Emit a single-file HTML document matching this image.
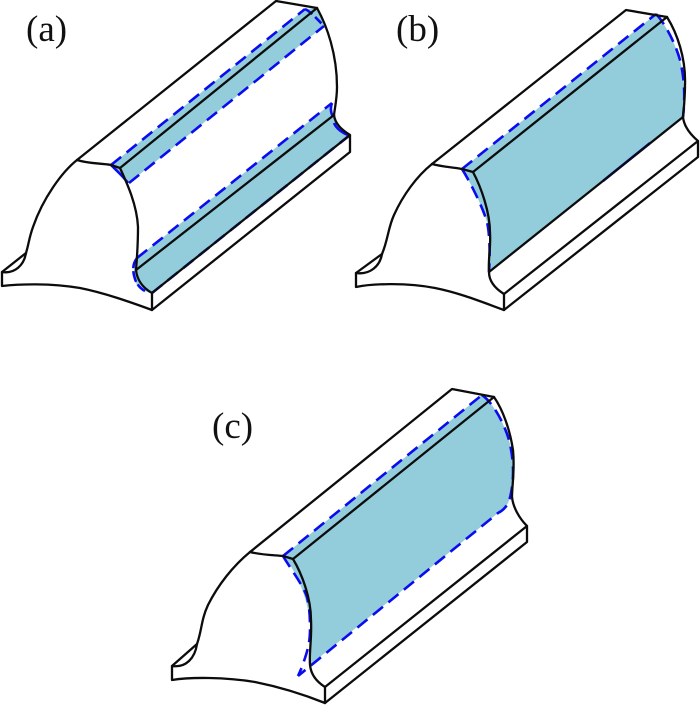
<!DOCTYPE html>
<html><head><meta charset="utf-8"><style>
html,body{margin:0;padding:0;background:#fff;width:700px;height:705px;overflow:hidden}
svg{display:block}
.k{fill:none;stroke:#0c0c0c;stroke-width:2.3;stroke-linejoin:round;stroke-linecap:round}
.b{fill:none;stroke:#0b0bf0;stroke-width:2.6;stroke-dasharray:13 7}
.c{fill:none;stroke:#0b0bf0;stroke-width:2.6}
.f{fill:#93cddc;stroke:none}
text{font-family:"Liberation Serif",serif;font-size:37px;fill:#111}
</style></head><body>
<svg width="700" height="705" viewBox="0 0 700 705" xmlns="http://www.w3.org/2000/svg">
<text x="26" y="41">(a)</text>
<text x="396" y="41">(b)</text>
<text x="212" y="438">(c)</text>

<!-- (a) -->
<path class="f" d="M111 165L305 9L317 8C320 14 322 20 324 26L129 183C126 176 119 171 111 165Z"/>
<path class="f" d="M137 258L332 103C330 110 331 118 334 115C336 122 342 130 350 135L152 293C147 293 141 289 137 285C134 280 134 275 134 270C134 264 134 261 137 258Z"/>
<path class="b" d="M111 165L305 9"/>
<path class="b" d="M129 183L324 26"/>
<path class="b" d="M137 258L332 103"/>
<path class="c" d="M152 293L350 135" stroke-dasharray="13 7" stroke-width="3.4"/>
<path class="c" d="M111 165C117 171 123 176 128 183"/>
<path class="c" d="M305 9C311 12 316 18 324 26" stroke-dasharray="9 4"/>
<path class="c" d="M137 258C133 263 132 270 135 279C137 285 141 289 145 291" stroke-dasharray="11 3"/>
<path class="c" d="M332 103C330 108 331 113 333 117M334 123C337 130 343 133 348 135"/>
<path class="k" d="M77 160L276 1L317 8C327 26 337 54 337 87C337 98 335 107 334 115C335 124 342 130 350 135L350 152L152 310L152 293L350 135"/>
<path class="k" d="M77 160C90 164 100 163 111 165L120 168L317 8"/>
<path class="k" d="M120 168C127 183 137 205 138 227C138 240 137 258 136 270C137 280 143 288 152 293"/>
<path class="k" d="M136 270L334 115"/>
<path class="k" d="M77 160C62 172 43 198 33 227C29 238 29 243 26 253L2 272L2 286C20 284 50 283 80 288C105 293 130 302 152 310"/>
<path class="k" d="M2 272C15 274 24 265 26 253"/>

<!-- (b) -->
<path class="f" d="M462 169L656 14C664 22 675 42 680 60C685 80 685 100 683 117L489 272C491 255 491 235 487 222C482 205 469 180 462 169Z"/>
<path class="c" d="M603 181L650 143" stroke-width="3.2"/>
<path class="b" d="M462 169L656 14"/>
<path class="b" d="M462 169C469 180 482 205 487 222C490 235 490 255 489 272"/>
<path class="b" d="M656 14C664 22 675 42 680 60C685 80 685 100 683 117"/>
<path class="k" d="M432 164L626 10L667 17C677 33 686 58 685 85C685 96 684 107 683 117C684 127 691 135 698 141L698 157L504 310L504 294L698 141"/>
<path class="k" d="M432 164C443 167 452 167 462 169L473 172L667 17"/>
<path class="k" d="M473 172C481 187 490 212 490 233C491 248 488 258 489 272C489 282 496 289 504 294"/>
<path class="k" d="M489 272L683 117"/>
<path class="k" d="M432 164C417 176 403 195 394 215C388 228 388 240 382 254L356 273L356 287C370 284 405 282 435 288C460 293 482 302 504 310"/>
<path class="k" d="M356 273C370 275 380 266 382 254"/>

<!-- (c) -->
<path class="f" d="M283 556L482 395C492 402 503 420 509 440C514 460 514 478 511 493C509 505 504 510 498 513L310 665C311 650 312 640 310 620C308 605 300 575 283 556Z"/>
<path class="b" d="M283 556L482 395"/>
<path class="b" d="M482 395C492 402 503 420 509 440C514 460 514 478 511 493C509 505 504 510 498 513L298 676"/>
<path class="b" d="M283 556C290 568 303 585 307 597C310 610 310 620 310 630C310 645 306 655 302 667L298 676"/>
<path class="k" d="M250 552L452 389L494 397C503 410 510 430 513 450C515 470 512 485 512 497C513 507 519 518 527 526L527 542L325 703L325 687L527 526"/>
<path class="k" d="M250 552C262 555 272 555 283 556L293 559L494 397"/>
<path class="k" d="M293 559C302 574 311 598 311 620C312 638 309 652 310 665C311 675 317 682 325 687"/>
<path class="k" d="M250 552C233 566 218 585 208 605C201 620 202 630 197 644L172 666L172 680C190 677 225 677 255 682C280 687 305 695 325 703"/>
<path class="k" d="M172 666C186 668 195 658 197 644"/>
</svg>
</body></html>
